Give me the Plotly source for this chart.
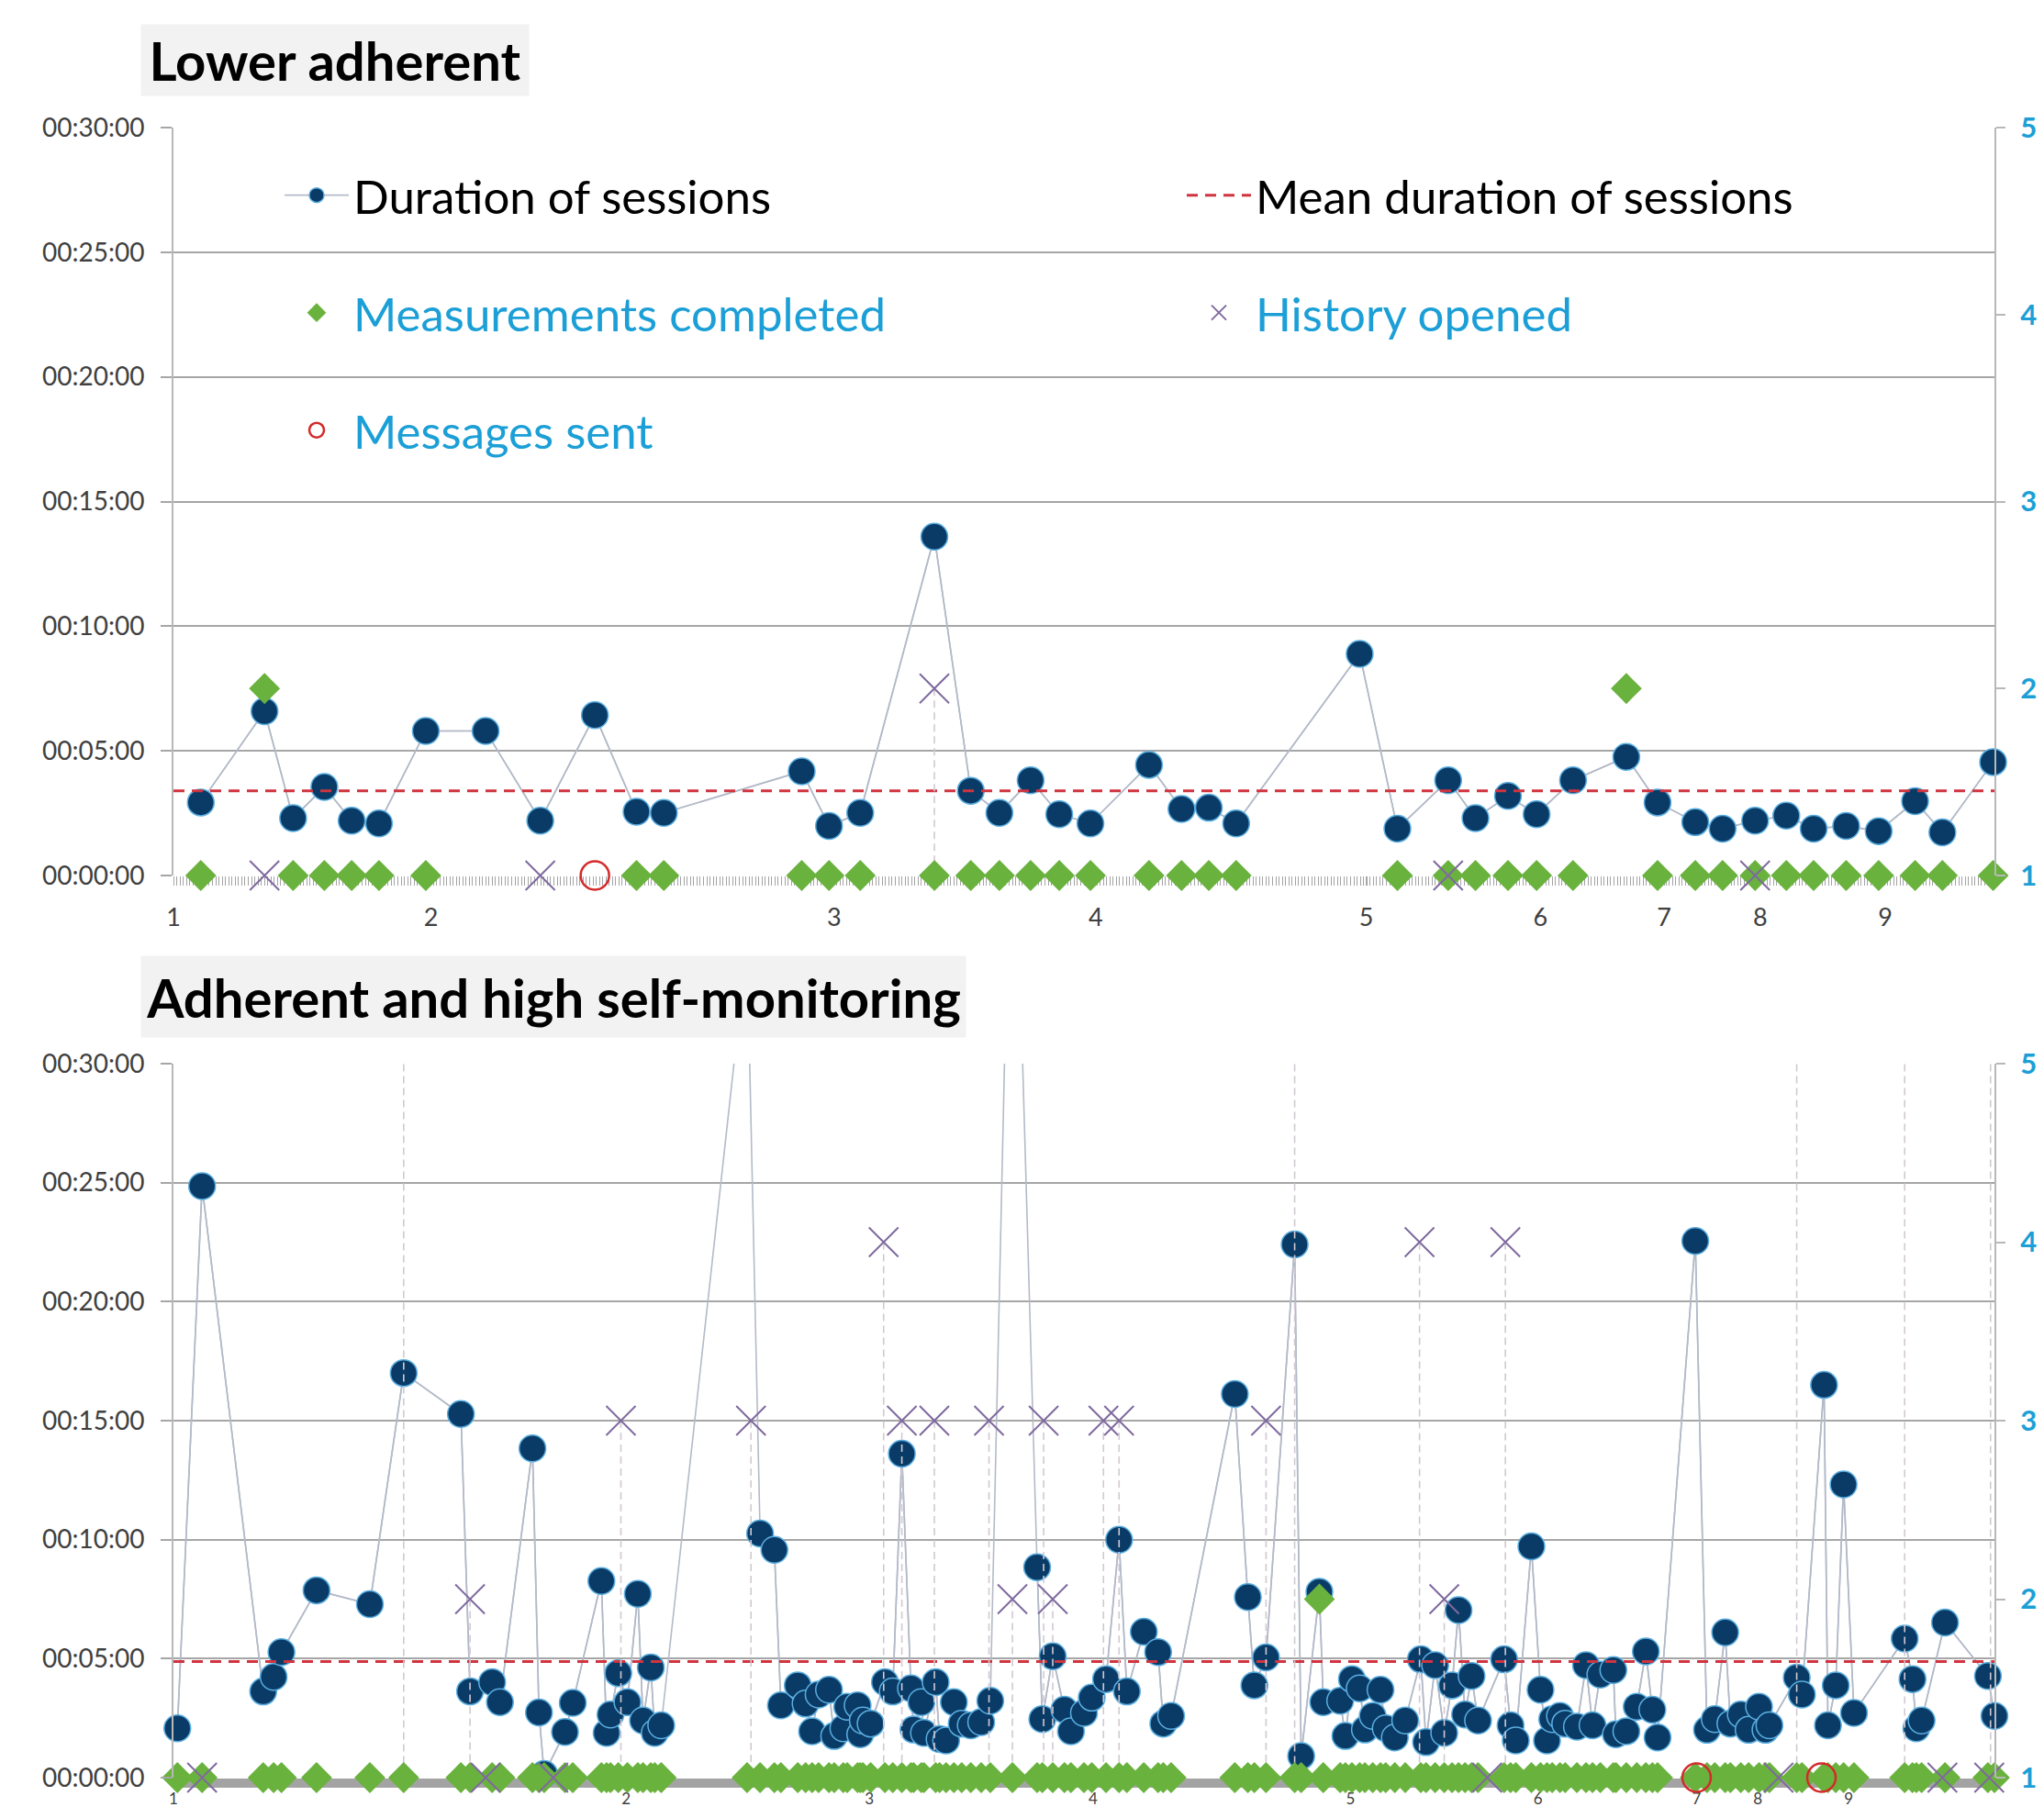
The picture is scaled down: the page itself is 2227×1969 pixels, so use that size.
import plotly.graph_objects as go

# ---------------- data (x = position along follow-up, y = minutes) ----------------
X_RANGE = [0, 140]

# Lower adherent
top_session_x = [2.1, 7.0, 9.2, 11.6, 13.7, 15.8, 19.4, 24.0, 28.2, 32.4, 35.6, 37.7,
                 48.3, 50.4, 52.8, 58.5, 61.3, 63.5, 65.9, 68.1, 70.5, 75.0, 77.5, 79.6,
                 81.7, 91.2, 94.1, 98.0, 100.1, 102.6, 104.8, 107.6, 111.7, 114.1, 117.0,
                 119.1, 121.6, 124.0, 126.1, 128.6, 131.1, 133.9, 136.0, 139.9]
top_duration_min = [2.93, 6.59, 2.30, 3.55, 2.20, 2.09, 5.80, 5.80, 2.20, 6.43, 2.56, 2.51,
                    4.18, 1.99, 2.51, 13.59, 3.40, 2.51, 3.82, 2.46, 2.09, 4.44, 2.67, 2.72,
                    2.09, 8.89, 1.88, 3.82, 2.30, 3.19, 2.46, 3.82, 4.76, 2.93, 2.14,
                    1.88, 2.20, 2.40, 1.88, 1.99, 1.78, 2.98, 1.73, 4.55]
top_measure_level = [1, 2, 1, 1, 1, 1, 1, 0, 0, 0, 1, 1,
                     1, 1, 1, 1, 1, 1, 1, 1, 1, 1, 1, 1,
                     1, 0, 1, 1, 1, 1, 1, 1, 2, 1, 1,
                     1, 1, 1, 1, 1, 1, 1, 1, 1]
top_history_x = [7.0, 28.2, 58.5, 98.0, 121.6]
top_history_level = [1, 1, 2, 1, 1]
top_message_x = [32.4]
top_message_level = [1]
top_mean_min = 3.40
top_tick_x = [0, 19.8, 50.8, 70.9, 91.7, 105.1, 114.6, 122.0, 131.6]
top_tick_labels = ["1", "2", "3", "4", "5", "6", "7", "8", "9"]

# Adherent and high self-monitoring
bot_session_x = [0.3, 2.2, 6.9, 7.7, 8.3, 11.0, 15.1, 17.7, 22.1, 22.8,
                 24.5, 25.1, 27.6, 28.1, 28.5, 30.1, 30.7, 32.9, 33.3, 33.6,
                 34.2, 34.9, 35.7, 36.1, 36.7, 37.0, 37.5, 44.1, 45.1, 46.2,
                 46.7, 48.0, 48.6, 49.1, 49.6, 50.4, 50.8, 51.5, 51.8, 52.6,
                 52.8, 53.0, 53.6, 54.7, 55.3, 56.0, 56.7, 56.9, 57.5, 57.7,
                 58.6, 58.9, 59.4, 60.0, 60.6, 61.3, 62.1, 62.8, 64.5, 66.4,
                 66.8, 67.6, 68.5, 69.0, 70.0, 70.6, 71.7, 72.7, 73.3, 74.6,
                 75.7, 76.1, 76.7, 81.6, 82.6, 83.1, 84.0, 86.2, 86.7, 88.1,
                 88.4, 89.7, 90.1, 90.6, 91.2, 91.6, 92.2, 92.8, 93.2, 93.9,
                 94.7, 95.9, 96.3, 97.0, 97.7, 98.3, 98.8, 99.3, 99.8, 100.3,
                 102.3, 102.8, 103.2, 104.4, 105.1, 105.6, 106.0, 106.6, 107.0, 107.9,
                 108.6, 109.1, 109.7, 110.7, 110.9, 111.7, 112.5, 113.2, 113.7, 114.1,
                 117.0, 117.9, 118.5, 119.3, 119.7, 120.5, 121.1, 121.9, 122.4, 122.7,
                 124.8, 125.2, 126.9, 127.2, 127.8, 128.4, 129.2, 133.1, 133.7, 134.0,
                 134.4, 136.2, 139.5, 140.0]
bot_duration_min = [2.07, 24.85, 3.62, 4.23, 5.27, 7.87, 7.29, 17.0, 15.28, 3.62,
                    4.01, 3.17, 13.83, 2.74, 0.15, 1.92, 3.14, 8.26, 1.88, 2.65,
                    4.39, 3.17, 7.72, 2.40, 4.63, 1.88, 2.20, 35.0, 10.26, 9.57,
                    3.04, 3.88, 3.11, 1.95, 3.49, 3.69, 1.75, 2.07, 2.98, 3.04,
                    1.82, 2.40, 2.27, 4.01, 3.62, 13.61, 3.75, 2.02, 3.17, 1.88,
                    4.01, 1.62, 1.56, 3.17, 2.27, 2.20, 2.33, 3.23, 45.0, 8.84,
                    2.46, 5.10, 2.85, 1.95, 2.72, 3.36, 4.14, 10.0, 3.62, 6.13,
                    5.27, 2.27, 2.59, 16.12, 7.59, 3.88, 5.05, 22.4, 0.91, 7.81,
                    3.17, 3.23, 1.75, 4.14, 3.75, 2.02, 2.59, 3.69, 2.07, 1.69,
                    2.40, 4.97, 1.49, 4.72, 1.88, 3.88, 7.04, 2.65, 4.27, 2.40,
                    4.97, 2.20, 1.56, 9.72, 3.69, 1.56, 2.46, 2.59, 2.27, 2.14,
                    4.72, 2.20, 4.33, 4.52, 1.82, 1.95, 2.98, 5.30, 2.85, 1.69,
                    22.55, 2.01, 2.46, 6.10, 2.27, 2.65, 2.01, 2.98, 2.01, 2.20,
                    4.20, 3.49, 16.5, 2.20, 3.88, 12.32, 2.72, 5.84, 4.14, 2.07,
                    2.40, 6.52, 4.27, 2.59]
bot_measure_level = [2 if i == 79 else 1 for i in range(len(bot_session_x))]
bot_history_x = [2.2, 17.7, 22.8, 24.0, 29.2, 34.4, 44.4, 54.6, 56.0, 58.5, 62.7, 64.5,
                 66.9, 67.6, 71.5, 72.7, 84.0, 86.2, 95.8, 97.7, 101.0, 102.4, 123.4,
                 124.8, 133.1, 136.0, 139.6, 139.7]
bot_history_level = [1, 6, 2, 1, 1, 3, 3, 4, 3, 3, 3, 2,
                     3, 2, 3, 3, 3, 6, 4, 2, 1, 4, 1,
                     6, 6, 1, 1, 6]
bot_message_x = [117.1, 126.7]
bot_message_level = [1, 1]
bot_mean_min = 4.88
bot_tick_x = [0, 34.8, 53.5, 70.7, 90.5, 104.9, 117.1, 121.8, 128.8]
bot_tick_labels = ["1", "2", "3", "4", "5", "6", "7", "8", "9"]

y_tick_min = [0, 5, 10, 15, 20, 25, 30]
y_tick_text = ["00:00:00", "00:05:00", "00:10:00", "00:15:00", "00:20:00", "00:25:00", "00:30:00"]
right_ticks = [1, 2, 3, 4, 5]

# ---------------- styling ----------------
W, H = 2227, 1969
L, R, T, B = 189, 54, 139, 32
PW, PH = W - L - R, H - T - B
FONT = "Lato"
NAVY = "#0a3b66"
EDGE = "#5aaee0"
LINEC = "#b3bac8"
RED = "#d0343f"
GREEN = "#6ab23e"
PURPLE = "#7f6a9f"
MSG = "#d42a2a"
DROP = "#d2c9d2"
CYAN = "#1b9fd6"
GRID = "#a6a6a6"


def fx(px):
    return (px - L) / PW


def fy(py):
    return (H - B - py) / PH


fig = go.Figure()


def add_panel(xs, durs, meas, hx, hl, mx, ml, mean, xa, ya, ya2, legend):
    visible = [v if v <= 30 else None for v in durs]
    fig.add_trace(go.Scatter(x=xs, y=durs, mode="lines", line=dict(color=LINEC, width=1.6),
                             xaxis=xa, yaxis=ya, showlegend=False, hoverinfo="skip"))
    fig.add_trace(go.Scatter(x=xs, y=visible, mode="lines+markers", connectgaps=False,
                             line=dict(color=LINEC, width=1.6),
                             marker=dict(size=29, color=NAVY, line=dict(color=EDGE, width=1.5)),
                             cliponaxis=False, xaxis=xa, yaxis=ya,
                             name="Duration of sessions", legend="legend", showlegend=legend))
    fig.add_trace(go.Scatter(x=X_RANGE, y=[mean, mean], mode="lines",
                             line=dict(color=RED, width=3, dash="12px,8px"),
                             xaxis=xa, yaxis=ya, name="Mean duration of sessions",
                             legend="legend2", showlegend=legend))
    dx, dy = [], []
    for x, lv in zip(hx, hl):
        if lv > 1:
            dx += [x, x, None]
            dy += [lv, 1, None]
    fig.add_trace(go.Scatter(x=dx, y=dy, mode="lines", line=dict(color=DROP, width=1.6, dash="8px,5px"),
                             xaxis=xa, yaxis=ya2, showlegend=False, hoverinfo="skip"))
    mxs = [x for x, m in zip(xs, meas) if m > 0]
    mys = [m for m in meas if m > 0]
    fig.add_trace(go.Scatter(x=mxs, y=mys, mode="markers", cliponaxis=False,
                             marker=dict(symbol="diamond", size=26, color=GREEN),
                             xaxis=xa, yaxis=ya2, name="Measurements completed",
                             legend="legend3", showlegend=legend))
    hxs = [x for x, lv in zip(hx, hl) if lv <= 5]
    hys = [lv for lv in hl if lv <= 5]
    fig.add_trace(go.Scatter(x=hxs, y=hys, mode="markers", cliponaxis=False,
                             marker=dict(symbol="x-thin-open", size=32, color=PURPLE, line=dict(width=2)),
                             xaxis=xa, yaxis=ya2, name="History opened",
                             legend="legend4", showlegend=legend))
    fig.add_trace(go.Scatter(x=mx, y=ml, mode="markers", cliponaxis=False,
                             marker=dict(symbol="circle-open", size=31, color=MSG, line=dict(width=2.5)),
                             xaxis=xa, yaxis=ya2, name="Messages sent",
                             legend="legend5", showlegend=legend))


add_panel(top_session_x, top_duration_min, top_measure_level, top_history_x, top_history_level,
          top_message_x, top_message_level, top_mean_min, "x", "y", "y2", True)
add_panel(bot_session_x, bot_duration_min, bot_measure_level, bot_history_x, bot_history_level,
          bot_message_x, bot_message_level, bot_mean_min, "x2", "y3", "y4", False)

top_dom = [fy(954), 1.0]
bot_dom = [0.0, fy(1159)]


def left_axis(domain):
    return dict(domain=domain, range=[0, 30], tickmode="array", tickvals=y_tick_min, ticktext=y_tick_text,
                showgrid=True, gridcolor=GRID, gridwidth=2, zeroline=False, automargin=False,
                showline=True, linecolor="#b8b8b8", linewidth=2,
                ticks="outside", ticklen=12, tickwidth=2, tickcolor=GRID,
                tickfont=dict(family=FONT, size=28, color="#404040"), ticklabelstandoff=12,
                fixedrange=True)


def right_axis(over, anchor):
    return dict(overlaying=over, anchor=anchor, side="right", range=[1, 5], tickmode="array",
                tickvals=right_ticks, showgrid=False, zeroline=False, automargin=False,
                showline=True, linecolor="#b8b8b8", linewidth=2,
                ticks="outside", ticklen=10, tickwidth=2, tickcolor="#b8b8b8",
                tickfont=dict(family=FONT, size=31, color=CYAN, weight="bold"), ticklabelstandoff=10,
                fixedrange=True)


def x_axis(anchor, tv, tt, mdt, mw, fsize, standoff):
    return dict(anchor=anchor, domain=[0, 1], range=X_RANGE, tickmode="array", tickvals=tv, ticktext=tt,
                showgrid=False, zeroline=False, showline=False, layer="below traces", automargin=False,
                ticks="outside", ticklen=10, tickwidth=1, tickcolor=GRID,
                minor=dict(tick0=0, dtick=mdt, ticks="outside", ticklen=10, tickwidth=mw, tickcolor="#a3a3a3"),
                tickfont=dict(family=FONT, size=fsize, color="#404040"), ticklabelstandoff=standoff,
                fixedrange=True)


leg_common = dict(xanchor="left", yanchor="middle", bgcolor="rgba(0,0,0,0)", borderwidth=0,
                  itemwidth=70, orientation="v")

fig.update_layout(
    width=W, height=H, margin=dict(l=L, r=R, t=T, b=B, pad=0, autoexpand=False),
    paper_bgcolor="white", plot_bgcolor="white",
    xaxis=x_axis("y", top_tick_x, top_tick_labels, 0.25, 1, 27, 12),
    yaxis=left_axis(top_dom),
    yaxis2=right_axis("y", "x"),
    xaxis2=x_axis("y3", bot_tick_x, bot_tick_labels, 0.1, 1.5, 17, -2),
    yaxis3=left_axis(bot_dom),
    yaxis4=right_axis("y3", "x2"),
    legend=dict(x=fx(305), y=fy(213), font=dict(family=FONT, size=51, color="black"), **leg_common),
    legend2=dict(x=fx(1288), y=fy(213), font=dict(family=FONT, size=51, color="black"), **leg_common),
    legend3=dict(x=fx(305), y=fy(341), font=dict(family=FONT, size=51, color=CYAN), **leg_common),
    legend4=dict(x=fx(1288), y=fy(341), font=dict(family=FONT, size=51, color=CYAN), **leg_common),
    legend5=dict(x=fx(305), y=fy(469), font=dict(family=FONT, size=51, color=CYAN), **leg_common),
    annotations=[
        dict(text="<b>Lower adherent</b>", xref="paper", yref="paper", x=fx(153), y=fy(26),
             xanchor="left", yanchor="top", showarrow=False, bgcolor="#f2f2f2", width=422, height=77,
             align="center", borderpad=0, font=dict(family=FONT, size=58, color="black")),
        dict(text="<b>Adherent and high self-monitoring</b>", xref="paper", yref="paper",
             x=fx(153), y=fy(1041), xanchor="left", yanchor="top", showarrow=False, bgcolor="#f2f2f2",
             width=898, height=88, align="center", borderpad=0,
             font=dict(family=FONT, size=58, color="black")),
    ],
    showlegend=True,
)

fig.write_html("out.html", config={"displayModeBar": False},
               post_script="document.body.style.margin='0px';document.body.style.overflow='hidden';")
